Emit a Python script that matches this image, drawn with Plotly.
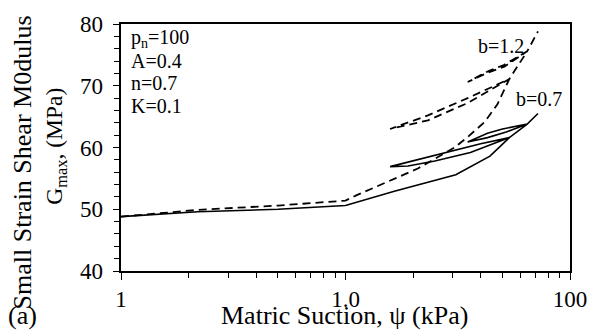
import plotly.graph_objects as go

# Suction path (kPa) and Gmax (MPa) for b = 0.7 (solid)
psi_b07 = [1, 2.2, 5, 10, 16.5, 31, 44, 53.7,
           40, 25, 15.8,
           19, 25, 36, 53.7,
           64.5, 50, 42.9, 35,
           42.9, 52, 64.5, 72]
g_b07 = [48.8, 49.6, 50.0, 50.6, 52.9, 55.6, 58.6, 61.6,
         60.6, 58.7, 56.9,
         57.0, 57.8, 59.2, 61.6,
         63.8, 63.0, 62.3, 60.9,
         61.6, 62.5, 63.8, 65.5]

# Suction path (kPa) and Gmax (MPa) for b = 1.2 (dashed)
psi_b12 = [1, 2.2, 5, 10, 11.1, 15.5, 21, 30.6, 35, 41.6, 47.5, 53.7,
           35, 23.3, 15.8,
           23.3, 35, 53.7,
           64.5, 51, 42.9, 35,
           42.9, 51, 64.5, 72]
g_b12 = [48.8, 49.9, 50.6, 51.4, 52.2, 54.5, 56.6, 60.0, 61.7, 64.1, 67.0, 71.1,
         68.0, 65.2, 63.0,
         64.4, 67.2, 71.1,
         75.6, 73.4, 72.3, 70.6,
         72.1, 73.1, 75.6, 78.8]

params = ["p<sub>n</sub>=100", "A=0.4", "n=0.7", "K=0.1"]
x_major = [1, 10, 100]
x_major_text = ["1", "1.0", "100"]
x_minor = [2, 3, 4, 5, 6, 7, 8, 9, 20, 30, 40, 50, 60, 70, 80, 90]
y_major = [40, 50, 60, 70, 80]
y_major_text = ["40", "50", "60", "70", "80"]

FONT = "Liberation Serif"

fig = go.Figure()
fig.add_trace(go.Scatter(x=psi_b07, y=g_b07, mode="lines",
                         line=dict(color="black", width=1.6),
                         showlegend=False))
fig.add_trace(go.Scatter(x=psi_b12, y=g_b12, mode="lines",
                         line=dict(color="black", width=1.8, dash="8px,5px"),
                         showlegend=False))

L, R, T, B = 121, 27, 15, 64
W, H = 599, 335
pw, ph = W - L - R, H - T - B

def px2paper(px, py):
    return (px - L) / pw, (H - B - py) / ph

def txt(text, px, py, size, xanchor="center", angle=0):
    x, y = px2paper(px, py)
    return dict(x=x, y=y, xref="paper", yref="paper", text=text,
                showarrow=False, xanchor=xanchor, yanchor="middle",
                textangle=angle,
                font=dict(family=FONT, size=size, color="black"))

annos = []
for i, t in enumerate(params):
    annos.append(txt(t, 129, 30 + i * 23.3, 20, xanchor="left"))
annos.append(txt("b=1.2", 503, 38, 20))
annos.append(txt("b=0.7", 541, 93, 20))
annos.append(txt("Matric Suction, ψ (kPa)", 345, 317, 26))
annos.append(txt("Small Strain Shear M0dulus", 23, 158, 26, angle=-90))
annos.append(txt("G<sub>max</sub>, (MPa)", 55, 142, 23.5, angle=-90))
annos.append(txt("(a)", 22, 317, 26))

fig.update_layout(
    width=W, height=H,
    margin=dict(l=L, r=R, t=T, b=B, pad=0),
    paper_bgcolor="white", plot_bgcolor="white",
    font=dict(family=FONT, size=23, color="black"),
    annotations=annos,
    xaxis=dict(type="log", range=[0, 2], showgrid=False, zeroline=False,
               showline=True, linecolor="black", linewidth=1.5, mirror=True,
               tickmode="array", tickvals=x_major, ticktext=x_major_text,
               ticks="outside", ticklen=7, tickwidth=1.3, tickcolor="black",
               minor=dict(tickmode="array", tickvals=x_minor, ticks="outside",
                          ticklen=5, tickwidth=1.2, tickcolor="black",
                          showgrid=False),
               tickfont=dict(family=FONT, size=23, color="black")),
    yaxis=dict(range=[40, 80], showgrid=False, zeroline=False,
               showline=True, linecolor="black", linewidth=1.5, mirror=True,
               tickmode="array", tickvals=y_major,
               ticktext=[t + "\u00a0" for t in y_major_text],
               ticks="outside", ticklen=6, tickwidth=1.3, tickcolor="black",
               minor=dict(tickmode="linear", tick0=40, dtick=2,
                          ticks="outside", ticklen=5, tickwidth=1.2,
                          tickcolor="black", showgrid=False),
               tickfont=dict(family=FONT, size=23, color="black")),
)

fig.write_html("out.html")
